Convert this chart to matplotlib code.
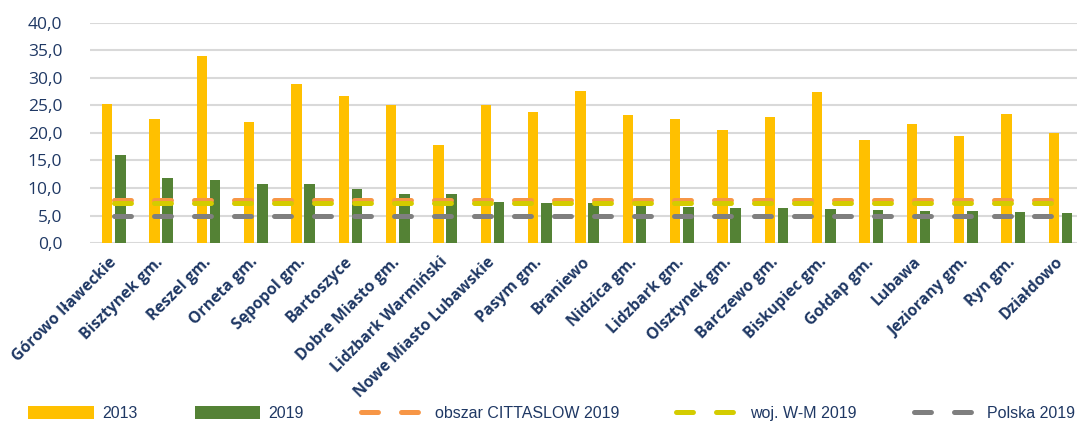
import numpy as np
import matplotlib
matplotlib.use("Agg")
from matplotlib import pyplot as plt
from matplotlib import font_manager
from matplotlib.ticker import FuncFormatter

categories = ["Górowo Iławeckie", "Bisztynek gm.", "Reszel gm.", "Orneta gm.",
              "Sępopol gm.", "Bartoszyce", "Dobre Miasto gm.", "Lidzbark Warmiński",
              "Nowe Miasto Lubawskie", "Pasym gm.", "Braniewo", "Nidzica gm.",
              "Lidzbark gm.", "Olsztynek gm.", "Barczewo gm.", "Biskupiec gm.",
              "Gołdap gm.", "Lubawa", "Jeziorany gm.", "Ryn gm.", "Działdowo"]
v2013 = [25.2, 22.5, 34.0, 22.0, 28.8, 26.7, 25.0, 17.8, 25.0, 23.8, 27.6,
         23.2, 22.5, 20.5, 22.8, 27.5, 18.8, 21.6, 19.4, 23.5, 19.9]
v2019 = [16.0, 11.9, 11.5, 10.7, 10.7, 9.9, 9.0, 9.0, 7.5, 7.3, 7.3,
         7.0, 6.5, 6.3, 6.3, 6.1, 6.0, 5.8, 5.75, 5.6, 5.4]
cittaslow = 7.8
woj = 7.3
polska = 5.0

navy = "#1F3864"
plt.rcParams['lines.scale_dashes'] = False

# narrow font for legend if available
try:
    font_manager.findfont("Liberation Sans Narrow", fallback_to_default=False)
    leg_font = {"family": "Liberation Sans Narrow", "size": 13}
except Exception:
    leg_font = {"family": "Liberation Sans", "size": 11.5}

fig = plt.figure(figsize=(10.77, 4.25), dpi=100)
ax = fig.add_axes([0.0836, 0.428, 0.9164, 0.5186])

x = np.arange(len(categories))
w = 0.22
b1 = ax.bar(x - 0.14, v2013, w, color="#FFC000", label="2013", zorder=2)
b2 = ax.bar(x + 0.14, v2019, w, color="#548235", label="2019", zorder=2)

dash = (0, (12.2, 16.6))
kw = dict(lw=3.6, linestyle=dash, dash_capstyle="round", zorder=3)
l1, = ax.plot(x, [cittaslow] * len(x), color="#F79646", label="obszar CITTASLOW 2019", **kw)
l2, = ax.plot(x, [woj] * len(x), color="#D4CC00", label="woj. W-M 2019", **kw)
l3, = ax.plot(x, [polska] * len(x), color="#7F7F7F", label="Polska 2019", **kw)

ax.set_xlim(-0.5, 20.35)
ax.set_ylim(0, 40)
ax.set_yticks(np.arange(0, 41, 5))
ax.yaxis.set_major_formatter(FuncFormatter(lambda v, p: f"{v:.1f}".replace(".", ",")))
ax.grid(axis="y", color="#D9D9D9", lw=1.5, zorder=0)
ax.set_axisbelow(True)
for s in ax.spines.values():
    s.set_visible(False)
ax.tick_params(axis="both", length=0)
ax.tick_params(axis="y", pad=20, labelcolor=navy)
for t in ax.get_yticklabels():
    t.set_fontfamily("Open Sans")
    t.set_fontsize(12.5)

ax.set_xticks(x)
ax.set_xticklabels(categories, rotation=45, ha="right", va="center", rotation_mode="anchor",
                   fontfamily="Open Sans", fontweight="bold", fontsize=11.3, color=navy)
ax.tick_params(axis="x", pad=12)

fig.legend([b1, b2, l1, l2, l3], ["2013", "2019", "obszar CITTASLOW 2019", "woj. W-M 2019", "Polska 2019"],
           loc="lower left", bbox_to_anchor=(0.013, -0.025), ncol=5, frameon=False,
           prop=leg_font, handlelength=4.1, handletextpad=0.5, columnspacing=3.6,
           labelcolor=navy, handleheight=0.9)

fig.savefig("out.png", dpi=100)
